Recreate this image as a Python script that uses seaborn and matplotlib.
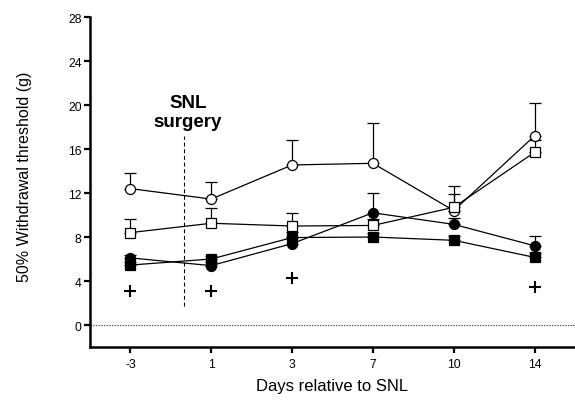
import numpy as np
import pandas as pd
import matplotlib
matplotlib.use("Agg")
import matplotlib.pyplot as plt
import seaborn as sns

# Days relative to spinal nerve ligation (categorical axis)
days = ["-3", "1", "3", "7", "10", "14"]

# 50% withdrawal threshold (g): mean and upper SEM per group
open_circle_mean = [12.4, 11.45, 14.55, 14.7, 10.4, 17.2]
open_circle_err = [1.45, 1.55, 2.3, 3.65, 2.2, 3.0]

open_square_mean = [8.4, 9.25, 9.0, 9.05, 10.7, 15.7]
open_square_err = [1.25, 1.35, 1.2, 0.6, 1.2, 1.1]

filled_circle_mean = [6.1, 5.4, 7.4, 10.2, 9.15, 7.2]
filled_circle_err = [0.3, 0.3, 0.6, 1.8, 0.6, 0.9]

filled_square_mean = [5.45, 6.0, 7.95, 8.0, 7.7, 6.15]
filled_square_err = [0.3, 0.3, 0.5, 0.4, 0.4, 0.4]

# Significance marks
plus_days = ["-3", "1", "3", "14"]
plus_y = [3.1, 3.1, 4.3, 3.5]

sns.set_style("ticks")
plt.rcParams["font.family"] = ["Liberation Sans", "DejaVu Sans"]
plt.rcParams["text.color"] = "black"
plt.rcParams["axes.labelcolor"] = "black"
plt.rcParams["xtick.color"] = "black"
plt.rcParams["ytick.color"] = "black"

fig = plt.figure(figsize=(5.75, 4.02), dpi=100)
ax = fig.add_axes([0.1565, 0.1343, 0.8435, 0.8209])

pos = np.arange(len(days))
day_pos = {d: i for i, d in enumerate(days)}

series = [
    (open_circle_mean, open_circle_err, "o", "white", 7.2),
    (open_square_mean, open_square_err, "s", "white", 6.6),
    (filled_circle_mean, filled_circle_err, "o", "black", 7.2),
    (filled_square_mean, filled_square_err, "s", "black", 6.6),
]

for mean, err, mk, face, ms in series:
    ax.errorbar(pos, mean, yerr=[np.zeros(len(err)), err], fmt="none",
                ecolor="black", elinewidth=0.9, capsize=4.0, capthick=0.9,
                zorder=1.5)
    df = pd.DataFrame({"pos": pos, "value": mean})
    sns.lineplot(data=df, x="pos", y="value", ax=ax, color="black",
                 linewidth=0.9, marker=mk, markersize=ms,
                 markerfacecolor=face, markeredgecolor="black",
                 markeredgewidth=0.9, sort=False, zorder=3)

# "+" significance marks
plus_df = pd.DataFrame({"pos": [day_pos[d] for d in plus_days], "value": plus_y})
sns.scatterplot(data=plus_df, x="pos", y="value", ax=ax, marker="+",
                s=80, color="black", linewidth=1.5, zorder=4)

# zero reference line
ax.axhline(0, color="#444444", linewidth=0.8, linestyle=(0, (1.2, 1.2)), zorder=1)

# surgery marker
ax.plot([0.667, 0.667], [1.7, 17.2], color="black", linewidth=0.8,
        linestyle=(0, (3.5, 2.5)), zorder=1)
ax.text(0.71, 17.75, "SNL\nsurgery", ha="center", va="bottom",
        fontsize=13.5, fontweight="bold", linespacing=1.15)

ax.set_xlim(-0.5, 5.5)
ax.set_ylim(-2, 28)
ax.set_xticks(pos)
ax.set_xticklabels(days)
ax.set_yticks(np.arange(0, 29, 4))
ax.tick_params(axis="both", direction="out", length=4, width=1.6,
               labelsize=8.8, color="black")
ax.tick_params(axis="x", pad=4)
ax.tick_params(axis="y", pad=2)

ax.set_xlabel("Days relative to SNL", fontsize=12, labelpad=6)
ax.set_ylabel("50% Withdrawal threshold (g)", fontsize=11.5)
ax.yaxis.set_label_coords(-0.12, 0.52)

for side in ["top", "right"]:
    ax.spines[side].set_visible(False)
for side in ["left", "bottom"]:
    ax.spines[side].set_linewidth(1.8)
    ax.spines[side].set_color("black")

fig.savefig("out.png", dpi=100)
